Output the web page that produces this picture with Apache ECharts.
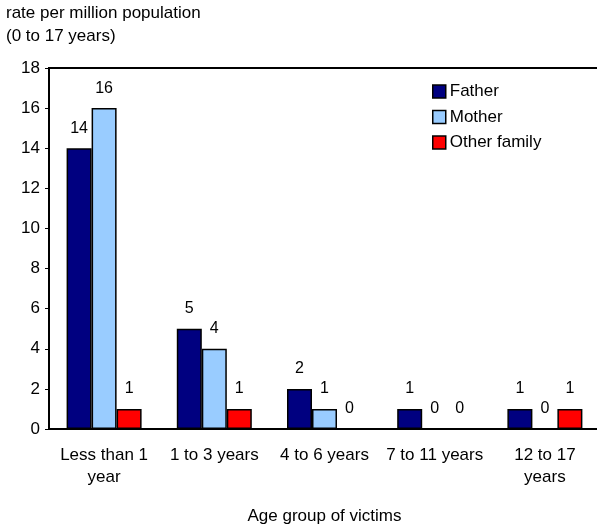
<!DOCTYPE html>
<html>
<head>
<meta charset="utf-8">
<script src="https://cdn.jsdelivr.net/npm/echarts@6/dist/echarts.min.js"></script>
<style>html,body{margin:0;padding:0;background:#fff;overflow:hidden}#c{width:597px;height:528px}</style>
</head>
<body>
<div id="c"></div>
<script>
const categories = ['Less than 1\nyear', '1 to 3 years', '4 to 6 years', '7 to 11 years', '12 to 17\nyears'];
const father = [14, 5, 2, 1, 1];
const mother = [16, 4, 1, 0, 0];
const otherFamily = [1, 1, 0, 0, 1];
const yTicks = { min: 0, max: 18, interval: 2 };

const chart = echarts.init(document.getElementById('c'));
const font = 'Liberation Sans, Arial, sans-serif';
const labelCfg = { show: true, position: 'top', color: '#000', fontSize: 16, fontFamily: font, distance: 12 };
function mk(name, data, color) {
  return {
    name, type: 'bar', data, barWidth: 25, barGap: '0%',
    itemStyle: { color, borderColor: '#000', borderWidth: 1.5 },
    label: labelCfg
  };
}
chart.setOption({
  animation: false,
  title: {
    text: 'rate per million population\n(0 to 17 years)',
    left: 1, top: -3,
    textStyle: { fontSize: 17, fontWeight: 'normal', color: '#000', fontFamily: font, lineHeight: 23 }
  },
  legend: {
    orient: 'vertical', left: 427, top: 78, itemGap: 8.5, itemWidth: 13, itemHeight: 13,
    icon: 'rect',
    textStyle: { fontSize: 17, color: '#000', fontFamily: font, padding: [0, 0, 0, -1] },
    itemStyle: { borderColor: '#000', borderWidth: 1.5 }
  },
  grid: { left: 49, width: 551, top: 68, height: 361, show: true, borderColor: '#000', borderWidth: 2, containLabel: false, outerBoundsMode: 'none' },
  xAxis: {
    type: 'category', data: categories,
    name: 'Age group of victims', nameLocation: 'middle', nameGap: 79,
    nameTextStyle: { fontSize: 17, color: '#000', fontFamily: font },
    axisLine: { lineStyle: { color: '#000', width: 2 } },
    axisTick: { show: false },
    axisLabel: { color: '#000', fontSize: 17, fontFamily: font, margin: 15, lineHeight: 22, interval: 0 }
  },
  yAxis: {
    type: 'value', min: yTicks.min, max: yTicks.max, interval: yTicks.interval,
    axisLine: { show: true, lineStyle: { color: '#000', width: 2 } },
    axisTick: { show: true, length: 4, lineStyle: { color: '#000' } },
    splitLine: { show: false },
    axisLabel: { color: '#000', fontSize: 17, fontFamily: font, margin: 9 }
  },
  series: [
    mk('Father', father, '#000080'),
    mk('Mother', mother, '#99CCFF'),
    mk('Other family', otherFamily, '#FF0000')
  ]
});
</script>
</body>
</html>
